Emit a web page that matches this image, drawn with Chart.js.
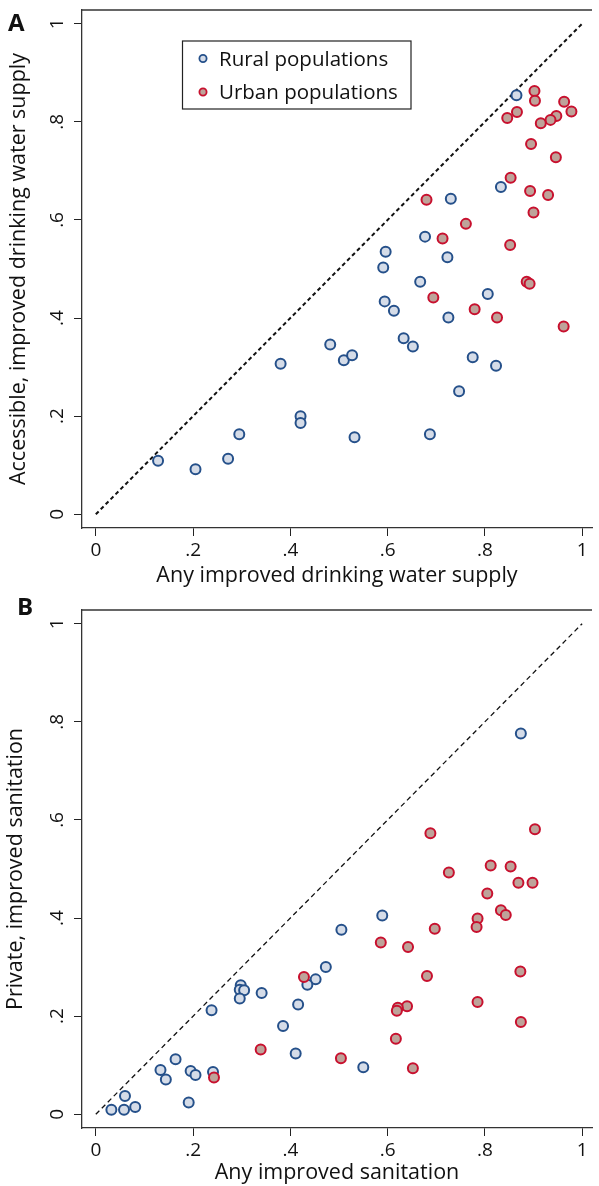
<!DOCTYPE html>
<html>
<head>
<meta charset="utf-8">
<script src="https://cdn.jsdelivr.net/npm/chart.js@4.4.0/dist/chart.umd.min.js"></script>
<style>
html, body { margin: 0; padding: 0; background: #fff; }
canvas { display: block; }
</style>
</head>
<body>
<canvas id="panelA" width="599" height="593"></canvas>
<canvas id="panelB" width="599" height="593"></canvas>
<script>
// tick values + labels (Stata style, no leading zero)
var tickValues = [0, 0.2, 0.4, 0.6, 0.8, 1];
var tickLabels = ['0', '.2', '.4', '.6', '.8', '1'];
var seriesNames = ['Rural populations', 'Urban populations'];

// Panel A - drinking water
var waterRuralAny = [0.865, 0.833, 0.730, 0.677, 0.596, 0.723, 0.591, 0.667, 0.806, 0.594, 0.613, 0.725, 0.633, 0.652, 0.482,
  0.510, 0.527, 0.380, 0.775, 0.823, 0.747, 0.421, 0.421, 0.295, 0.532, 0.687, 0.128, 0.205, 0.272];
var waterRuralAccessible = [0.854, 0.667, 0.643, 0.566, 0.535, 0.524, 0.503, 0.474, 0.449, 0.434, 0.415, 0.401, 0.359, 0.342, 0.346,
  0.314, 0.324, 0.307, 0.320, 0.303, 0.251, 0.200, 0.186, 0.163, 0.157, 0.163, 0.109, 0.092, 0.113];
var waterUrbanAny = [0.902, 0.903, 0.963, 0.866, 0.846, 0.978, 0.947, 0.935, 0.915, 0.895, 0.946, 0.853, 0.893, 0.930, 0.900,
  0.680, 0.761, 0.713, 0.852, 0.886, 0.892, 0.694, 0.779, 0.825, 0.962];
var waterUrbanAccessible = [0.863, 0.843, 0.841, 0.820, 0.808, 0.821, 0.812, 0.804, 0.797, 0.755, 0.728, 0.686, 0.659, 0.651, 0.615,
  0.641, 0.592, 0.562, 0.549, 0.474, 0.470, 0.442, 0.418, 0.401, 0.383];

// Panel B - sanitation
var sanRuralAny = [0.874, 0.589, 0.505, 0.473, 0.452, 0.435, 0.416, 0.385, 0.411, 0.550, 0.298, 0.296, 0.305, 0.296, 0.341,
  0.238, 0.164, 0.133, 0.144, 0.195, 0.205, 0.241, 0.191, 0.060, 0.032, 0.058, 0.081];
var sanRuralPrivate = [0.776, 0.405, 0.376, 0.300, 0.275, 0.264, 0.224, 0.180, 0.124, 0.096, 0.263, 0.254, 0.253, 0.236, 0.247,
  0.212, 0.112, 0.090, 0.071, 0.088, 0.080, 0.086, 0.024, 0.037, 0.009, 0.009, 0.015];
var sanUrbanAny = [0.688, 0.903, 0.812, 0.853, 0.726, 0.869, 0.898, 0.805, 0.833, 0.843, 0.785, 0.783, 0.697, 0.586, 0.642,
  0.428, 0.681, 0.873, 0.640, 0.621, 0.619, 0.785, 0.874, 0.617, 0.504, 0.652, 0.339, 0.243];
var sanUrbanPrivate = [0.573, 0.581, 0.507, 0.505, 0.493, 0.472, 0.472, 0.450, 0.416, 0.406, 0.399, 0.382, 0.378, 0.350, 0.341,
  0.280, 0.282, 0.291, 0.220, 0.217, 0.211, 0.229, 0.188, 0.154, 0.114, 0.094, 0.132, 0.075];

var equalityLine = [{x: 0, y: 0}, {x: 1, y: 1}];

var FONT = '"Open Sans", "Noto Sans", sans-serif';

function toPoints(xs, ys) {
  return xs.map(function (x, i) { return {x: x, y: ys[i]}; });
}

// top frame line, rotated y tick labels, panel letter, legend
var extrasPlugin = {
  id: 'extras',
  afterDraw: function (chart) {
    var c = chart.ctx, a = chart.chartArea, p = chart.options.plugins.extras;
    var yScale = chart.scales.y;
    c.save();
    c.strokeStyle = '#333';
    c.lineWidth = 1.3;
    c.beginPath();
    c.moveTo(a.left, a.top);
    c.lineTo(a.right, a.top);
    c.stroke();

    c.fillStyle = '#111';
    c.font = '19px ' + FONT;
    c.textAlign = 'center';
    c.textBaseline = 'alphabetic';
    tickValues.forEach(function (v, i) {
      c.save();
      c.translate(63, yScale.getPixelForValue(v));
      c.rotate(-Math.PI / 2);
      c.fillText(tickLabels[i], 0, 0);
      c.restore();
    });

    c.font = 'bold 24px ' + FONT;
    c.textAlign = 'left';
    c.fillText(p.letter, p.letterX, p.letterY);

    if (p.legend) {
      c.strokeStyle = '#222';
      c.lineWidth = 1.2;
      c.strokeRect(182.5, 41, 228.5, 68);
      c.font = '20.5px ' + FONT;
      var rows = [58.5, 92];
      chart.data.datasets.slice(1).forEach(function (ds, i) {
        c.beginPath();
        c.arc(203, rows[i], 3.6, 0, Math.PI * 2);
        c.fillStyle = ds.backgroundColor;
        c.fill();
        c.lineWidth = 1.8;
        c.strokeStyle = ds.borderColor;
        c.stroke();
        c.fillStyle = '#111';
        c.fillText(ds.label, 219, rows[i] + 7.4);
      });
    }
    c.restore();
  }
};

function makeChart(id, p) {
  var ctx = document.getElementById(id).getContext('2d');
  var axisBase = {
    type: 'linear',
    afterBuildTicks: function (s) { s.ticks = tickValues.map(function (v) { return {value: v}; }); },
    grid: {drawOnChartArea: false, drawTicks: true, tickLength: 8, color: '#222', lineWidth: 1},
    border: {display: true, color: '#333', width: 1.3}
  };
  return new Chart(ctx, {
    type: 'scatter',
    data: {
      datasets: [
        {type: 'line', data: equalityLine, borderColor: '#111', borderWidth: p.dashWidth, borderDash: p.dash,
          pointRadius: 0, fill: false, order: 3},
        {label: seriesNames[0], data: toPoints(p.ruralX, p.ruralY), pointRadius: 5, pointBorderWidth: 2,
          backgroundColor: '#d5dce8', borderColor: '#25508a', order: 2},
        {label: seriesNames[1], data: toPoints(p.urbanX, p.urbanY), pointRadius: 5, pointBorderWidth: 2,
          backgroundColor: '#bea39a', borderColor: '#c8102e', order: 1}
      ]
    },
    options: {
      responsive: false,
      animation: false,
      layout: {padding: {top: p.padTop, bottom: 0, left: 0, right: 0}},
      plugins: {
        legend: {display: false},
        tooltip: {enabled: false},
        extras: {letter: p.letter, letterX: p.letterX, letterY: p.letterY, legend: p.legend}
      },
      scales: {
        x: Object.assign({}, axisBase, {
          min: -0.0284, max: 1.0203,
          afterFit: function (s) { s.height = p.xHeight; },
          ticks: {
            autoSkip: false, maxRotation: 0, padding: 3, color: '#111',
            font: {family: FONT, size: 19},
            callback: function (v, i) { return tickLabels[i]; }
          },
          title: {display: true, text: p.xTitle, color: '#111', font: {family: FONT, size: 21.5},
            padding: {top: 0, bottom: p.xTitlePad}}
        }),
        y: Object.assign({}, axisBase, {
          min: -0.028, max: 1.028,
          afterFit: function (s) { s.width = 82; },
          ticks: {display: false},
          title: {display: true, text: p.yTitle, color: '#111', font: {family: FONT, size: 21.5},
            padding: {top: p.yTitlePad, bottom: 0}}
        })
      }
    },
    plugins: [extrasPlugin]
  });
}

makeChart('panelA', {
  ruralX: waterRuralAny, ruralY: waterRuralAccessible,
  urbanX: waterUrbanAny, urbanY: waterUrbanAccessible,
  xTitle: 'Any improved drinking water supply',
  yTitle: 'Accessible, improved drinking water supply',
  padTop: 10, xHeight: 65, xTitlePad: 4, yTitlePad: 6,
  dash: [4, 3], dashWidth: 2,
  letter: 'A', letterX: 8, letterY: 31, legend: true
});

makeChart('panelB', {
  ruralX: sanRuralAny, ruralY: sanRuralPrivate,
  urbanX: sanUrbanAny, urbanY: sanUrbanPrivate,
  xTitle: 'Any improved sanitation',
  yTitle: 'Private, improved sanitation',
  padTop: 17, xHeight: 58, xTitlePad: 0, yTitlePad: 3,
  dash: [5, 3.5], dashWidth: 1.3,
  letter: 'B', letterX: 17, letterY: 22, legend: false
});
</script>
</body>
</html>
